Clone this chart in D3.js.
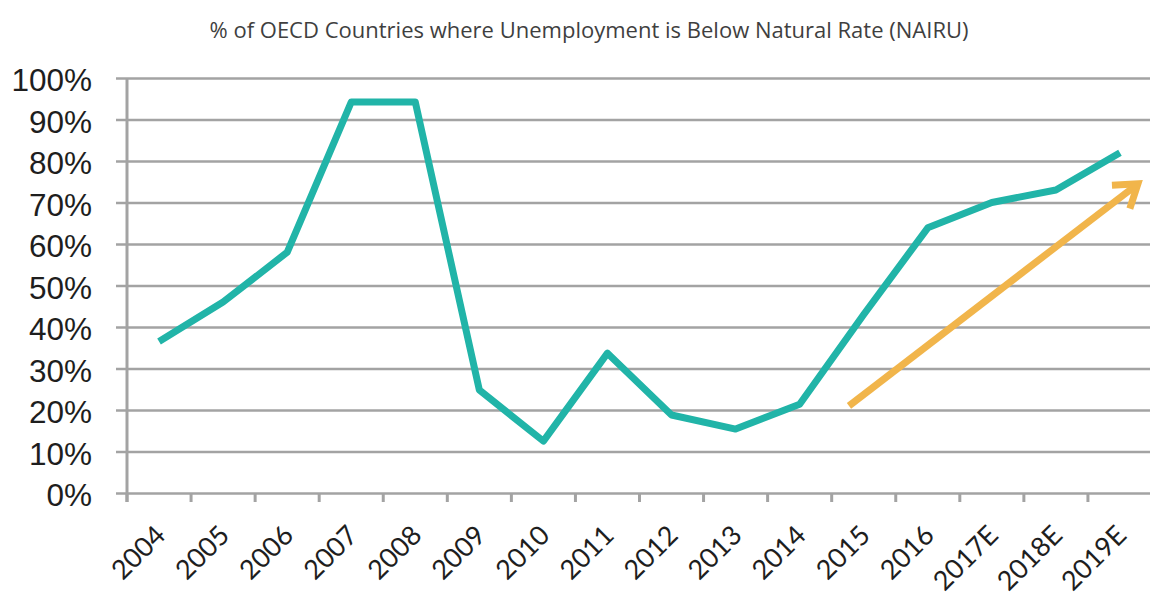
<!DOCTYPE html>
<html>
<head>
<meta charset="utf-8">
<script src="https://cdnjs.cloudflare.com/ajax/libs/d3/7.8.5/d3.min.js"></script>
<style>
  body { margin: 0; background: #fff; }
  svg { display: block; }
</style>
</head>
<body>
<div id="chart"></div>
<script>
// data
var years = ["2004", "2005", "2006", "2007", "2008", "2009", "2010", "2011",
             "2012", "2013", "2014", "2015", "2016", "2017E", "2018E", "2019E"];
var shareBelowNairu = [36.5, 46, 58, 94.2, 94.2, 24.8, 12.5, 33.7,
                       18.8, 15.4, 21.4, 43, 63.9, 70, 73, 82];
var yTicks = [0, 10, 20, 30, 40, 50, 60, 70, 80, 90, 100];
// trend arrow: category index (2004 = 0) and value in %
var arrowFrom = { i: 10.77, v: 21 };
var arrowTo = { i: 15.28, v: 74.5 };

var W = 1150, H = 597;
var margin = { top: 78, right: -2, bottom: 104, left: 127 };
var width = W - margin.left - margin.right;
var height = H - margin.top - margin.bottom;

var svg = d3.select("#chart").append("svg")
  .attr("width", W).attr("height", H);

svg.append("text")
  .attr("x", 589).attr("y", 38)
  .attr("text-anchor", "middle")
  .attr("textLength", 759).attr("lengthAdjust", "spacingAndGlyphs")
  .style("font-family", "'Liberation Sans Narrow', 'Open Sans', sans-serif")
  .style("font-size", "21px")
  .style("fill", "#3f3f3f")
  .text("% of OECD Countries where Unemployment is Below Natural Rate (NAIRU)");

var g = svg.append("g")
  .attr("transform", "translate(" + margin.left + "," + margin.top + ")");

var x = d3.scaleBand().domain(years).range([0, width]).padding(0);
var xi = d3.scaleLinear().domain([-0.5, years.length - 0.5]).range([0, width]);
var y = d3.scaleLinear().domain([0, 100]).range([height, 0]);

// gridlines + y labels
var yAxis = d3.axisLeft(y).tickValues(yTicks)
  .tickSize(-(width + 11)).tickPadding(24)
  .tickFormat(function(d) { return d + "%"; });
var gy = g.append("g").attr("class", "y axis")
  .attr("transform", "translate(-11,0)").call(yAxis);
gy.select(".domain").remove();
gy.selectAll("line").attr("stroke", "#a3a3a3").attr("stroke-width", 2.5);
gy.selectAll("text")
  .style("font-family", "'Liberation Sans', Arial, sans-serif")
  .style("font-size", "31.5px")
  .style("fill", "#1e1e1e")
  .attr("dy", "0.4em");

// vertical axis line
g.append("line")
  .attr("x1", 0).attr("x2", 0)
  .attr("y1", 0).attr("y2", height + 9)
  .attr("stroke", "#a3a3a3").attr("stroke-width", 3);

// category boundary ticks
var bounds = years.map(function(d) { return x(d); }).concat([x.range()[1]]);
g.selectAll(".xtick").data(bounds).enter().append("line")
  .attr("class", "xtick")
  .attr("x1", function(d) { return d; }).attr("x2", function(d) { return d; })
  .attr("y1", height).attr("y2", height + 9)
  .attr("stroke", "#a3a3a3").attr("stroke-width", 3);

// x labels
var xAxis = d3.axisBottom(x).tickSize(0).tickPadding(0);
var gx = g.append("g").attr("class", "x axis")
  .attr("transform", "translate(0," + height + ")").call(xAxis);
gx.select(".domain").remove();
gx.selectAll("text")
  .attr("text-anchor", "end")
  .attr("dy", 0)
  .attr("transform", "translate(8,44) rotate(-45)")
  .attr("y", 0)
  .style("font-family", "Lato, 'Open Sans', sans-serif")
  .style("font-size", "27px")
  .style("fill", "#1e1e1e");

// main line
var valueline = d3.line()
  .x(function(d, i) { return x(years[i]) + x.bandwidth() / 2; })
  .y(function(d) { return y(d); });

g.append("path")
  .datum(shareBelowNairu)
  .attr("d", valueline)
  .attr("fill", "none")
  .attr("stroke", "#21b4a8")
  .attr("stroke-width", 7)
  .attr("stroke-linejoin", "round");

// trend arrow
var ax1 = xi(arrowFrom.i), ay1 = y(arrowFrom.v);
var ax2 = xi(arrowTo.i), ay2 = y(arrowTo.v);
var ang = Math.atan2(ay2 - ay1, ax2 - ax1);
var headLen = 26, spread = 0.6;
var orange = "#f1b54b";

g.append("line")
  .attr("x1", ax1).attr("y1", ay1)
  .attr("x2", ax2 - 3 * Math.cos(ang)).attr("y2", ay2 - 3 * Math.sin(ang))
  .attr("stroke", orange).attr("stroke-width", 7);

g.append("path")
  .attr("d", "M" + (ax2 - headLen * Math.cos(ang - spread)) + "," + (ay2 - headLen * Math.sin(ang - spread)) +
             "L" + ax2 + "," + ay2 +
             "L" + (ax2 - headLen * Math.cos(ang + spread)) + "," + (ay2 - headLen * Math.sin(ang + spread)))
  .attr("fill", "none")
  .attr("stroke", orange)
  .attr("stroke-width", 7)
  .attr("stroke-linejoin", "miter");
</script>
</body>
</html>
